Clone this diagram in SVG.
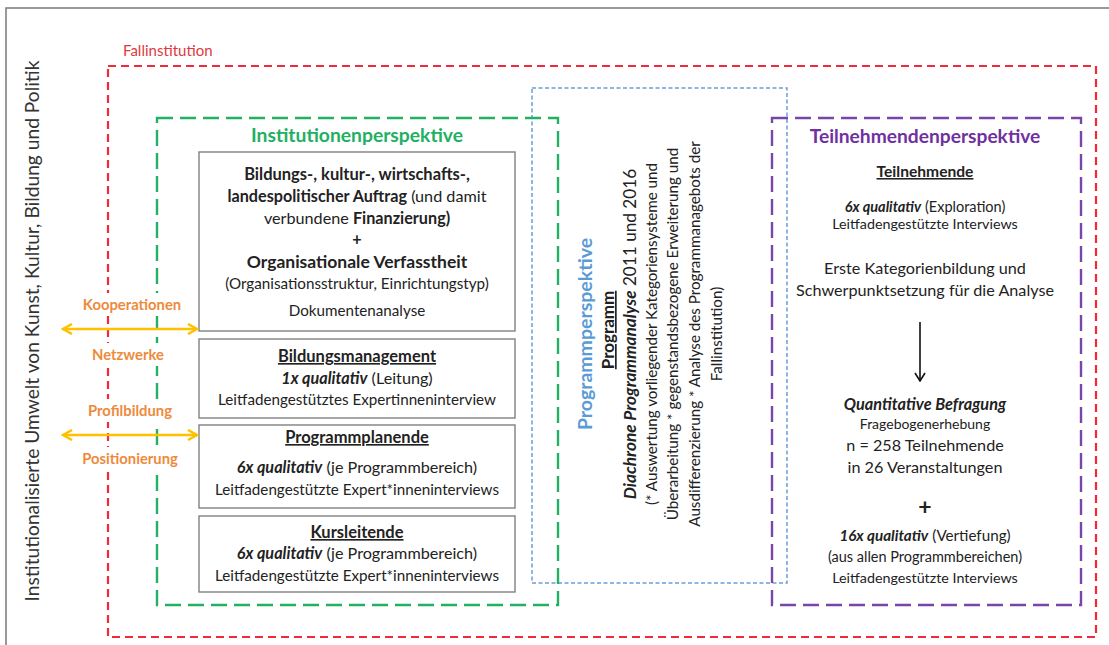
<svg xmlns="http://www.w3.org/2000/svg" width="1109" height="645" viewBox="0 0 1109 645">
  <defs>
    <style>
      text { font-family: Lato, "Liberation Sans", sans-serif; fill: #222; }
      .c { text-anchor: middle; }
      .b { font-weight: bold; }
      .bi { font-weight: bold; font-style: italic; }
      .u { text-decoration: underline; }
      .box { fill: #fff; stroke: #808080; stroke-width: 1.4; }
      .lbl { font-weight: bold; font-size: 14.8px; fill: #ee8a3c; text-anchor: middle; }
      .t14 { font-size: 14.5px; }
      .t15 { font-size: 15.2px; }
      .t16 { font-size: 16.2px; }
      .h { font-weight: bold; font-size: 16.5px; text-decoration: underline; text-anchor: middle; }
    </style>
    <marker id="chev" viewBox="0 0 12 12" refX="10" refY="6" markerWidth="12" markerHeight="12" markerUnits="userSpaceOnUse" orient="auto-start-reverse">
      <path d="M1,1 L10,6 L1,11" fill="none" stroke="#ffc000" stroke-width="2.5" stroke-linejoin="miter"/>
    </marker>
    <marker id="chevK" viewBox="0 0 12 12" refX="6" refY="10" markerWidth="12" markerHeight="12" markerUnits="userSpaceOnUse" orient="0">
      <path d="M1,3 L6,11 L11,3" fill="none" stroke="#111" stroke-width="1.6"/>
    </marker>
  </defs>

  <rect width="1109" height="645" fill="#fff"/>

  <!-- page frame -->
  <path d="M6,645 L6,8 L1109,8" fill="none" stroke="#7a7a7a" stroke-width="1.5"/>

  <!-- surrounding context, vertical -->
  <text id="umwelt" transform="translate(39,331) rotate(-90)" class="c" style="font-size:19.2px;fill:#333">Institutionalisierte Umwelt von Kunst, Kultur, Bildung und Politik</text>

  <!-- case institution frame -->
  <g id="fallinstitution">
    <rect x="108" y="66" width="988" height="571" fill="none" stroke="#ee2a3b" stroke-width="2.2" stroke-dasharray="8,5"/>
    <text x="123" y="56" style="font-size:15px;fill:#e0383e">Fallinstitution</text>
  </g>

  <!-- programme perspective (dotted blue) -->
  <g id="programmperspektive">
    <rect x="532" y="88" width="255" height="495" fill="none" stroke="#6a9fd6" stroke-width="1.5" stroke-dasharray="4,2.5"/>
    <g transform="translate(0,334) rotate(-90)">
      <text class="c b" x="0" y="592" style="font-size:19.5px;fill:#5b9bd5">Programmperspektive</text>
      <text class="c b u" x="4" y="614" style="font-size:17px">Programm</text>
      <text class="c" x="0" y="636" style="font-size:17.2px"><tspan class="bi">Diachrone Programmanalyse</tspan> 2011 und 2016</text>
      <text class="c t15" x="0" y="657">(* Auswertung vorliegender Kategoriensysteme und</text>
      <text class="c t15" x="0" y="678">Überarbeitung * gegenstandsbezogene Erweiterung und</text>
      <text class="c t15" x="0" y="700">Ausdifferenzierung * Analyse des Programmanagebots der</text>
      <text class="c t15" x="0" y="722">Fallinstitution)</text>
    </g>
  </g>

  <!-- institution perspective (green) -->
  <g id="institutionenperspektive">
    <rect x="157" y="118" width="401" height="487" fill="none" stroke="#22b062" stroke-width="2.4" stroke-dasharray="16,7"/>
    <text class="c b" x="357" y="142" style="font-size:19.3px;fill:#22b062">Institutionenperspektive</text>
  </g>

  <!-- participant perspective (purple) -->
  <g id="teilnehmendenperspektive">
    <rect x="772" y="118" width="309" height="487" fill="none" stroke="#7a45a8" stroke-width="2.4" stroke-dasharray="16,7"/>
    <text class="c b" x="925" y="143" style="font-size:19.2px;fill:#7030a0">Teilnehmendenperspektive</text>
    <text class="c b u" x="925" y="177" style="font-size:15.6px">Teilnehmende</text>
    <text class="c t14" x="925" y="212"><tspan class="bi">6x qualitativ</tspan> (Exploration)</text>
    <text class="c" x="925" y="229" style="font-size:14.3px">Leitfadengestützte Interviews</text>
    <text class="c t16" x="925" y="274">Erste Kategorienbildung und</text>
    <text class="c t16" x="925" y="296">Schwerpunktsetzung für die Analyse</text>
    <text class="c bi" x="925" y="410" style="font-size:16.3px">Quantitative Befragung</text>
    <text class="c" x="925" y="429" style="font-size:14px">Fragebogenerhebung</text>
    <text class="c t16" x="925" y="451">n = 258 Teilnehmende</text>
    <text class="c t16" x="925" y="473">in 26 Veranstaltungen</text>
    <text class="c b" x="925" y="515" style="font-size:23px">+</text>
    <text class="c t15" x="925" y="541"><tspan class="bi">16x qualitativ</tspan> (Vertiefung)</text>
    <text class="c t14" x="925" y="562">(aus allen Programmbereichen)</text>
    <text class="c" x="925" y="583" style="font-size:14.3px">Leitfadengestützte Interviews</text>
  </g>

  <!-- left-hand boxes -->
  <g id="auftrag">
    <rect class="box" x="199" y="152" width="316" height="179"/>
    <text class="c b" x="357" y="180" style="font-size:16.5px">Bildungs-, kultur-, wirtschafts-,</text>
    <text class="c t16" x="357" y="202"><tspan class="b">landespolitischer Auftrag</tspan> (und damit</text>
    <text class="c t16" x="357" y="224">verbundene <tspan class="b">Finanzierung)</tspan></text>
    <text class="c b t16" x="357" y="245">+</text>
    <text class="c b" x="357" y="268" style="font-size:17.5px">Organisationale Verfasstheit</text>
    <text class="c t15" x="357" y="289">(Organisationsstruktur, Einrichtungstyp)</text>
    <text class="c t15" x="357" y="316">Dokumentenanalyse</text>
  </g>
  <g id="bildungsmanagement">
    <rect class="box" x="199" y="339" width="316" height="79"/>
    <text class="h" x="357" y="362">Bildungsmanagement</text>
    <text class="c t16" x="357" y="384"><tspan class="bi">1x qualitativ</tspan> (Leitung)</text>
    <text class="c t15" x="357" y="405">Leitfadengestütztes Expertinneninterview</text>
  </g>
  <g id="programmplanende">
    <rect class="box" x="199" y="425" width="316" height="83"/>
    <text class="h" x="357" y="443">Programmplanende</text>
    <text class="c t16" x="357" y="473"><tspan class="bi">6x qualitativ</tspan> (je Programmbereich)</text>
    <text class="c t15" x="357" y="495">Leitfadengestützte Expert*inneninterviews</text>
  </g>
  <g id="kursleitende">
    <rect class="box" x="199" y="516" width="316" height="76"/>
    <text class="h" x="357" y="538">Kursleitende</text>
    <text class="c t16" x="357" y="559"><tspan class="bi">6x qualitativ</tspan> (je Programmbereich)</text>
    <text class="c t15" x="357" y="581">Leitfadengestützte Expert*inneninterviews</text>
  </g>

  <!-- labels on the exchange with the environment -->
  <g id="austausch-labels">
    <rect x="75" y="293" width="115" height="23" fill="#fff"/>
    <rect x="80" y="343" width="100" height="23" fill="#fff"/>
    <rect x="75" y="399" width="115" height="23" fill="#fff"/>
    <rect x="72" y="447" width="120" height="23" fill="#fff"/>
    <text class="lbl" x="132" y="310">Kooperationen</text>
    <text class="lbl" x="128" y="360">Netzwerke</text>
    <text class="lbl" x="130" y="416">Profilbildung</text>
    <text class="lbl" x="130" y="464">Positionierung</text>
  </g>

  <!-- connectors -->
  <g id="connectors" fill="none">
    <line x1="63" y1="329" x2="197" y2="329" stroke="#ffc000" stroke-width="2.6" marker-start="url(#chev)" marker-end="url(#chev)"/>
    <line x1="63" y1="435" x2="197" y2="435" stroke="#ffc000" stroke-width="2.6" marker-start="url(#chev)" marker-end="url(#chev)"/>
    <line x1="920" y1="322" x2="920" y2="380" stroke="#111" stroke-width="1.6" marker-end="url(#chevK)"/>
  </g>
</svg>
